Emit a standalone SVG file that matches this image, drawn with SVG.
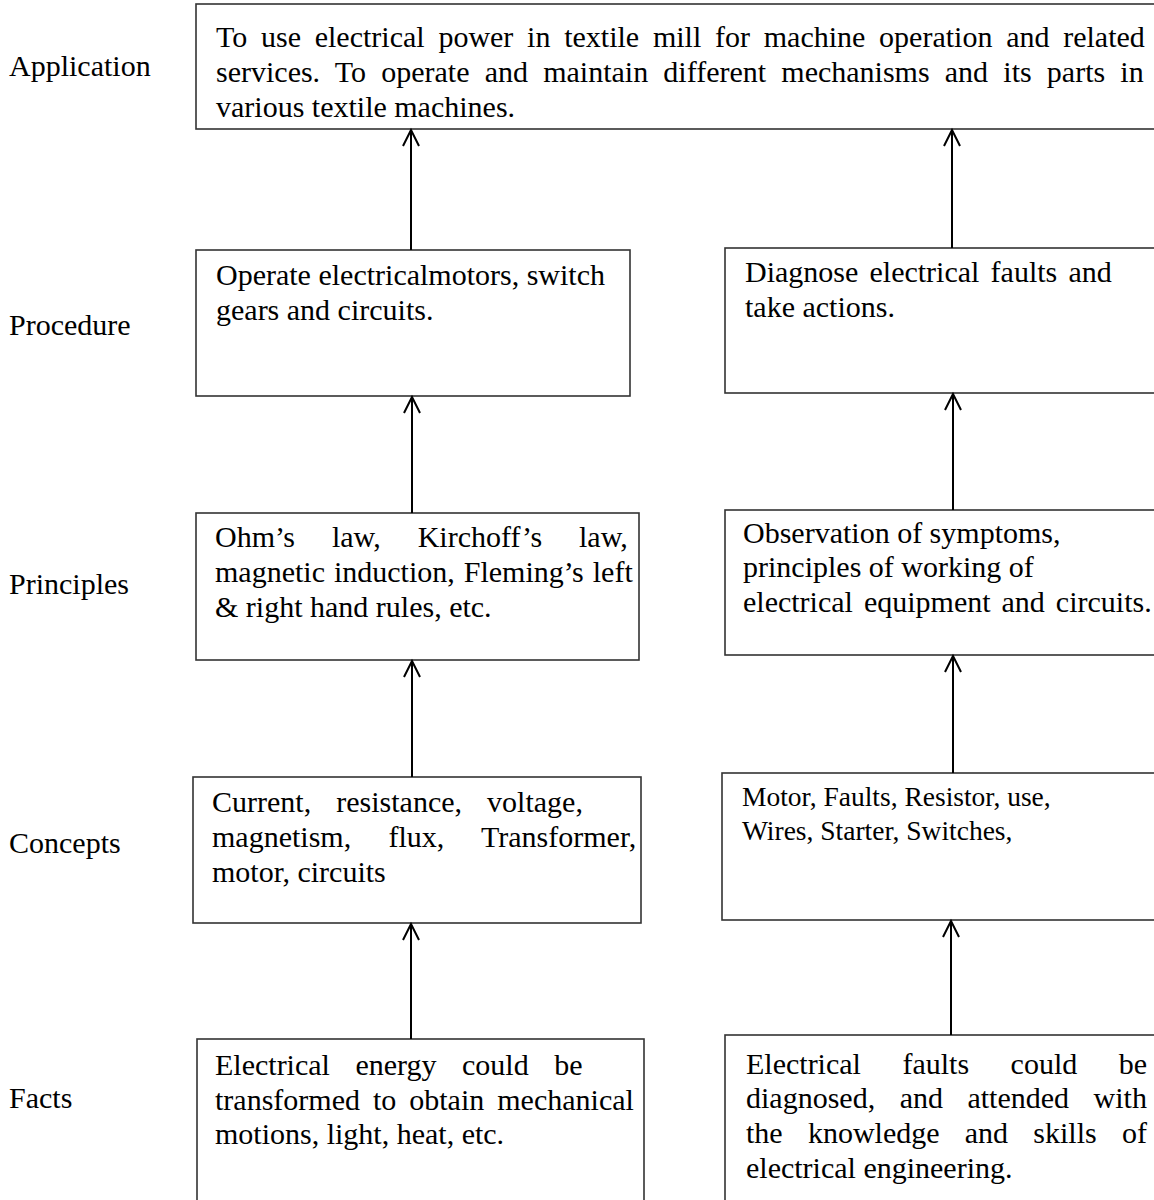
<svg xmlns="http://www.w3.org/2000/svg" width="1154" height="1200" viewBox="0 0 1154 1200">
  <style>
    text { font-family: "Liberation Serif", "Times New Roman", serif; font-size: 30px; fill: #000; }
    .small { font-size: 27.5px; }
    .box { fill: #fff; stroke: #333; stroke-width: 1.6; }
    .link { stroke: #000; stroke-width: 2; fill: none; marker-end: url(#head); }
  </style>
  <defs>
    <marker id="head" markerUnits="userSpaceOnUse" viewBox="-20 -12 24 24" refX="0" refY="0" markerWidth="24" markerHeight="24" orient="auto" overflow="visible">
      <path d="M-16,-8 L0,0 L-16,8" fill="none" stroke="#000" stroke-width="2"/>
    </marker>
  </defs>

  <!-- level labels -->
  <g id="labels">
    <text x="9" y="76">Application</text>
    <text x="9" y="335">Procedure</text>
    <text x="9" y="594">Principles</text>
    <text x="9" y="853">Concepts</text>
    <text x="9" y="1108">Facts</text>
  </g>

  <!-- top: application -->
  <g id="application">
    <rect class="box" x="196" y="4" width="980" height="125"/>
    <text x="216" y="47" word-spacing="6.25">To use electrical power in textile mill for machine operation and related</text>
    <text x="216" y="82" word-spacing="7.7">services. To operate and maintain different mechanisms and its parts in</text>
    <text x="216" y="117">various textile machines.</text>
  </g>

  <!-- procedure row -->
  <g id="procedure-left">
    <rect class="box" x="196" y="250" width="434" height="146"/>
    <text x="216" y="285">Operate electricalmotors, switch</text>
    <text x="216" y="320">gears and circuits.</text>
  </g>
  <g id="procedure-right">
    <rect class="box" x="725" y="248" width="450" height="145"/>
    <text x="745" y="282" word-spacing="3.7">Diagnose electrical faults and</text>
    <text x="745" y="317">take actions.</text>
  </g>

  <!-- principles row -->
  <g id="principles-left">
    <rect class="box" x="196" y="513" width="443" height="147"/>
    <text x="215" y="547" word-spacing="29.4">Ohm’s law, Kirchoff’s law,</text>
    <text x="215" y="582" word-spacing="1.5">magnetic induction, Fleming’s left</text>
    <text x="215" y="617">&amp; right hand rules, etc.</text>
  </g>
  <g id="principles-right">
    <rect class="box" x="725" y="510" width="450" height="145"/>
    <text x="743" y="543">Observation of symptoms,</text>
    <text x="743" y="577">principles of working of</text>
    <text x="743" y="612" word-spacing="3.5">electrical equipment and circuits.</text>
  </g>

  <!-- concepts row -->
  <g id="concepts-left">
    <rect class="box" x="193" y="777" width="448" height="146"/>
    <text x="212" y="812" word-spacing="17.6">Current, resistance, voltage,</text>
    <text x="212" y="847" word-spacing="29.8">magnetism, flux, Transformer,</text>
    <text x="212" y="882">motor, circuits</text>
  </g>
  <g id="concepts-right">
    <rect class="box" x="722" y="773" width="450" height="147"/>
    <text class="small" x="742" y="806">Motor, Faults, Resistor, use,</text>
    <text class="small" x="742" y="840">Wires, Starter, Switches,</text>
  </g>

  <!-- facts row -->
  <g id="facts-left">
    <rect class="box" x="197" y="1039" width="447" height="180"/>
    <text x="215" y="1075" word-spacing="18">Electrical energy could be</text>
    <text x="215" y="1110" word-spacing="5.5">transformed to obtain mechanical</text>
    <text x="215" y="1144">motions, light, heat, etc.</text>
  </g>
  <g id="facts-right">
    <rect class="box" x="725" y="1035" width="450" height="185"/>
    <text x="746" y="1074" word-spacing="34">Electrical faults could be</text>
    <text x="746" y="1108" word-spacing="17">diagnosed, and attended with</text>
    <text x="746" y="1143" word-spacing="17.75">the knowledge and skills of</text>
    <text x="746" y="1178">electrical engineering.</text>
  </g>

  <!-- upward arrows between levels -->
  <g id="connectors">
    <line class="link" x1="411" y1="250" x2="411" y2="130"/>
    <line class="link" x1="412" y1="513" x2="412" y2="397"/>
    <line class="link" x1="412" y1="777" x2="412" y2="661"/>
    <line class="link" x1="411" y1="1039" x2="411" y2="924"/>
    <line class="link" x1="952" y1="248" x2="952" y2="130"/>
    <line class="link" x1="953" y1="510" x2="953" y2="394"/>
    <line class="link" x1="953" y1="773" x2="953" y2="656"/>
    <line class="link" x1="951" y1="1035" x2="951" y2="921"/>
  </g>
</svg>
